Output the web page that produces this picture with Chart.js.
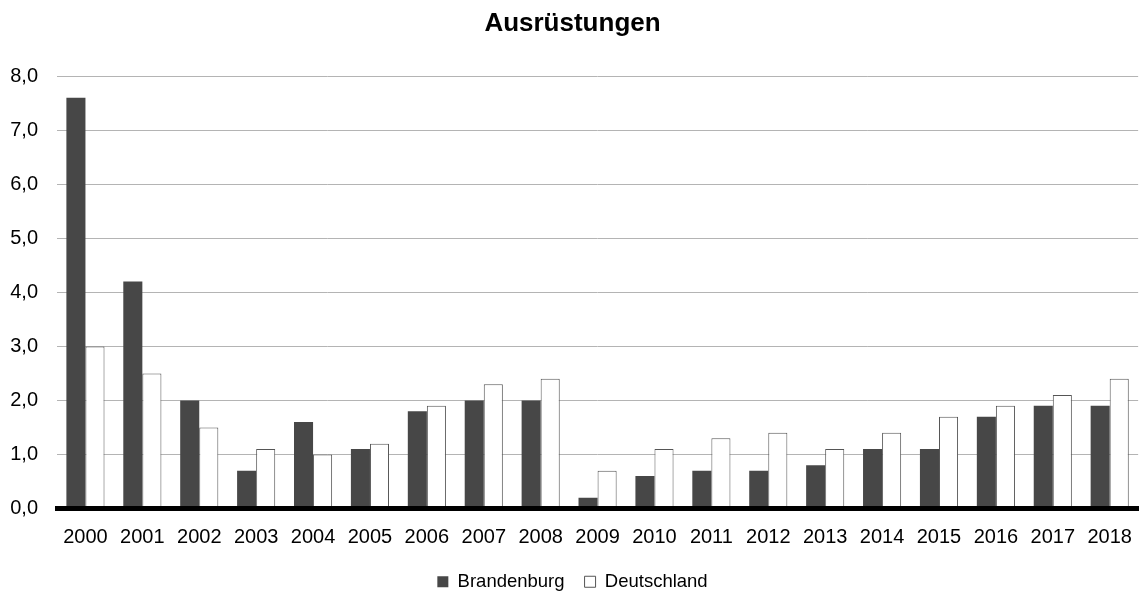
<!DOCTYPE html>
<html>

<head>
    <title>Ausrüstungen</title>
    <style>
        body { margin: 0; background: #fff; }
        #wrap { width: 1141px; height: 593px; }
    </style>
</head>

<body>
    <div id="wrap"><canvas id="myChart"></canvas></div>
    <script src="https://cdn.jsdelivr.net/npm/chart.js@4.4.0/dist/chart.umd.min.js"></script>

    <script type="text/javascript">
        const years = ['2000', '2001', '2002', '2003', '2004', '2005', '2006', '2007', '2008', '2009',
            '2010', '2011', '2012', '2013', '2014', '2015', '2016', '2017', '2018'];
        const brandenburg = [7.6, 4.2, 2.0, 0.7, 1.6, 1.1, 1.8, 2.0, 2.0, 0.2, 0.6, 0.7, 0.7, 0.8, 1.1, 1.1, 1.7, 1.9, 1.9];
        const deutschland = [3.0, 2.5, 1.5, 1.1, 1.0, 1.2, 1.9, 2.3, 2.4, 0.7, 1.1, 1.3, 1.4, 1.1, 1.4, 1.7, 1.9, 2.1, 2.4];

        Chart.defaults.font.family = '"Liberation Sans", Arial, sans-serif';
        Chart.defaults.color = '#000';

        var ctx = document.getElementById('myChart').getContext('2d');
        var chart = new Chart(ctx, {
            type: 'bar',
            data: {
                labels: years,
                datasets: [{
                    label: 'Brandenburg',
                    backgroundColor: '#474747',
                    borderColor: '#474747',
                    borderWidth: 0,
                    data: brandenburg
                }, {
                    label: 'Deutschland',
                    backgroundColor: '#ffffff',
                    borderColor: '#555555',
                    borderWidth: 1,
                    data: deutschland
                }]
            },
            options: {
                responsive: true,
                maintainAspectRatio: false,
                animation: false,
                layout: { padding: { left: 6, right: 2, top: 2, bottom: -8 } },
                datasets: {
                    bar: { categoryPercentage: 0.67, barPercentage: 1.0 }
                },
                plugins: {
                    title: {
                        display: true,
                        text: 'Ausrüstungen',
                        font: { size: 26, weight: 'bold' },
                        padding: { top: 6, bottom: 37 }
                    },
                    legend: {
                        position: 'bottom',
                        labels: {
                            boxWidth: 11,
                            boxHeight: 11,
                            font: { size: 18.5 },
                            padding: 20
                        }
                    },
                    tooltip: { enabled: false }
                },
                scales: {
                    x: {
                        grid: { display: false },
                        border: { color: '#000', width: 5, z: 1 },
                        ticks: { font: { size: 20 }, padding: 9 },
                        afterFit: function(s) { s.height = 44; }
                    },
                    y: {
                        min: 0,
                        max: 8,
                        grid: { color: '#b4b4b4', drawTicks: false },
                        border: { display: false },
                        ticks: {
                            stepSize: 1,
                            font: { size: 20 },
                            padding: 19,
                            callback: function(v) { return v.toFixed(1).replace('.', ','); }
                        },
                        afterFit: function(s) { s.width = 51; }
                    }
                }
            }
        });
    </script>
</body>

</html>
